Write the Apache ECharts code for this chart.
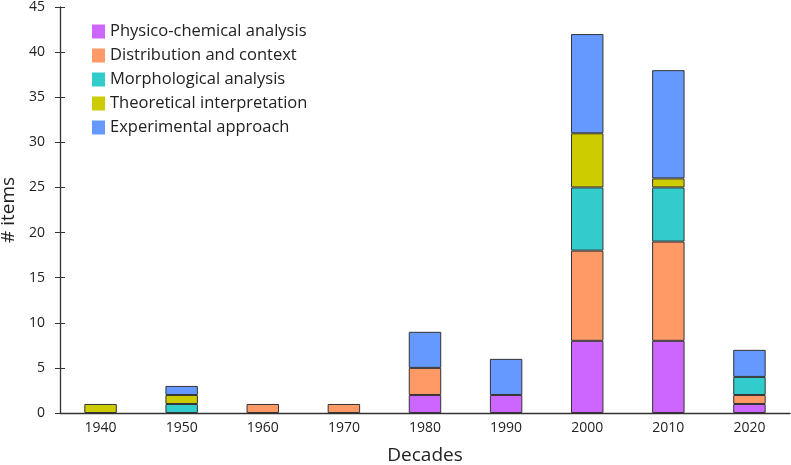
<!DOCTYPE html>
<html>
<head>
<meta charset="utf-8">
<script src="https://cdn.jsdelivr.net/npm/echarts@6/dist/echarts.min.js"></script>
<style>
html,body{margin:0;padding:0;background:#fff;}
#chart{width:791px;height:465px;}
</style>
</head>
<body>
<div id="chart"></div>
<script>
var decades = ['1940','1950','1960','1970','1980','1990','2000','2010','2020'];
var physico = [0,0,0,0,2,2,8,8,1];
var distribution = [0,0,1,1,3,0,10,11,1];
var morphological = [0,1,0,0,0,0,7,6,2];
var theoretical = [1,1,0,0,0,0,6,1,0];
var experimental = [0,1,0,0,4,4,11,12,3];

var names = ['Physico-chemical analysis','Distribution and context','Morphological analysis','Theoretical interpretation','Experimental approach'];
var colors = ['#cc66ff','#ff9966','#33cccc','#cccc00','#6699ff'];
var allData = [physico, distribution, morphological, theoretical, experimental];

var font = 'Open Sans';
var myChart = echarts.init(document.getElementById('chart'));

var series = [];
for (var i = 0; i < names.length; i++) {
    series.push({
        type:'bar',
        name:names[i],
        stack:'total',
        barWidth:'40%',
        data:allData[i].map(function(v){ return v === 0 ? '-' : v; }),
        itemStyle:{
            color:colors[i],
            borderColor:'#333',
            borderWidth:1
        }
    });
}

var option = {
    animation:false,
    backgroundColor:'#fff',
    textStyle:{fontFamily:font},
    legend:{
        orient:'vertical',
        left:87,
        top:18,
        itemWidth:13,
        itemHeight:14,
        itemGap:7,
        icon:'rect',
        itemStyle:{borderWidth:0},
        textStyle:{fontSize:16.5,color:'#222',fontFamily:font},
        data:names
    },
    grid:{
        left:60,
        right:1,
        top:7,
        bottom:52,
        containLabel:false,
        outerBoundsMode:'none'
    },
    xAxis:{
        type:'category',
        data:decades,
        name:'Decades',
        nameLocation:'middle',
        nameGap:33,
        nameTextStyle:{fontSize:19,color:'#222',fontFamily:font},
        axisLine:{lineStyle:{color:'#333',width:1.3}},
        axisTick:{show:false},
        axisLabel:{fontSize:14,color:'#222',margin:8,fontFamily:font}
    },
    yAxis:[
        {
            type:'value',
            min:0,
            max:45,
            interval:5,
            name:'# items',
            nameLocation:'middle',
            nameGap:40,
            nameTextStyle:{fontSize:19,color:'#222',fontFamily:font},
            axisLine:{show:true,lineStyle:{color:'#333',width:1.3}},
            axisTick:{show:true,length:5,lineStyle:{color:'#333'}},
            axisLabel:{fontSize:14,color:'#222',margin:15,fontFamily:font},
            splitLine:{show:false}
        },
        {
            type:'value',
            position:'left',
            min:0,
            max:45,
            interval:5,
            axisLine:{show:false},
            axisTick:{show:true,inside:true,length:5,lineStyle:{color:'#333'}},
            axisLabel:{show:false},
            splitLine:{show:false}
        }
    ],
    series:series
};

myChart.setOption(option);
</script>
</body>
</html>
